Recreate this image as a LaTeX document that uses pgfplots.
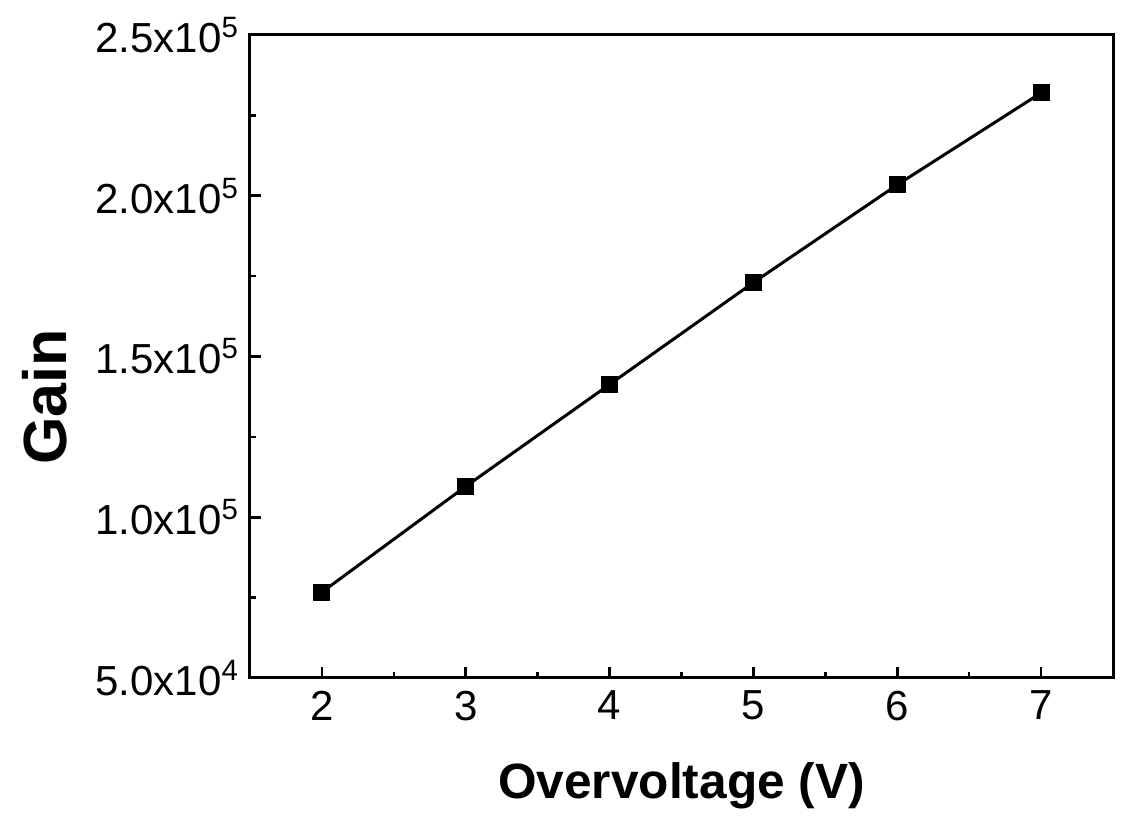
\documentclass[border=0pt]{standalone}
\usepackage{pgfplots}
\pgfplotsset{compat=1.18}
\usepackage{fontspec}
\setmainfont{Liberation Sans}
\begin{document}
\begin{tikzpicture}
\begin{axis}[
  scale only axis,
  width=431.5bp, height=321.5bp,
  xmin=1.5, xmax=7.5,
  ymin=50000, ymax=250000,
  xtick={2,3,4,5,6,7},
  ytick={50000,100000,150000,200000,250000},
  yticklabels={5.0x10\textsuperscript{4},1.0x10\textsuperscript{5},1.5x10\textsuperscript{5},2.0x10\textsuperscript{5},2.5x10\textsuperscript{5}},
  scaled y ticks=false,
  minor tick num=1,
  tick align=inside,
  xtick pos=bottom, ytick pos=left,
  major tick length=5.5bp, minor tick length=3bp,
  every tick/.style={line width=1.3bp, black},
  axis line style={line width=1.5bp},
  /pgf/number format/assume math mode=true,
  tick label style={font=\fontsize{21bp}{24bp}\selectfont},
  xticklabel style={yshift=-3bp},
  yticklabel style={xshift=-2bp},
  xlabel={\textbf{Overvoltage (V)}},
  ylabel={\textbf{Gain}},
  xlabel style={font=\fontsize{24.8bp}{28bp}\selectfont, at={(axis description cs:0.5,-0.168)}, anchor=center},
  ylabel style={font=\fontsize{30.5bp}{34bp}\selectfont, at={(axis description cs:-0.2375,0.437)}, anchor=center},
  clip=false,
]
\addplot[black, line width=1.5bp, mark=square*, mark size=3.5bp, mark options={solid}] coordinates {
  (2,76700) (3,109600) (4,141300) (5,173000) (6,203400) (7,232000)
};
\end{axis}
\path ([shift={(-125bp,-67bp)}]current axis.south west) rectangle ([shift={(6.5bp,17.5bp)}]current axis.north east);
\end{tikzpicture}
\end{document}
